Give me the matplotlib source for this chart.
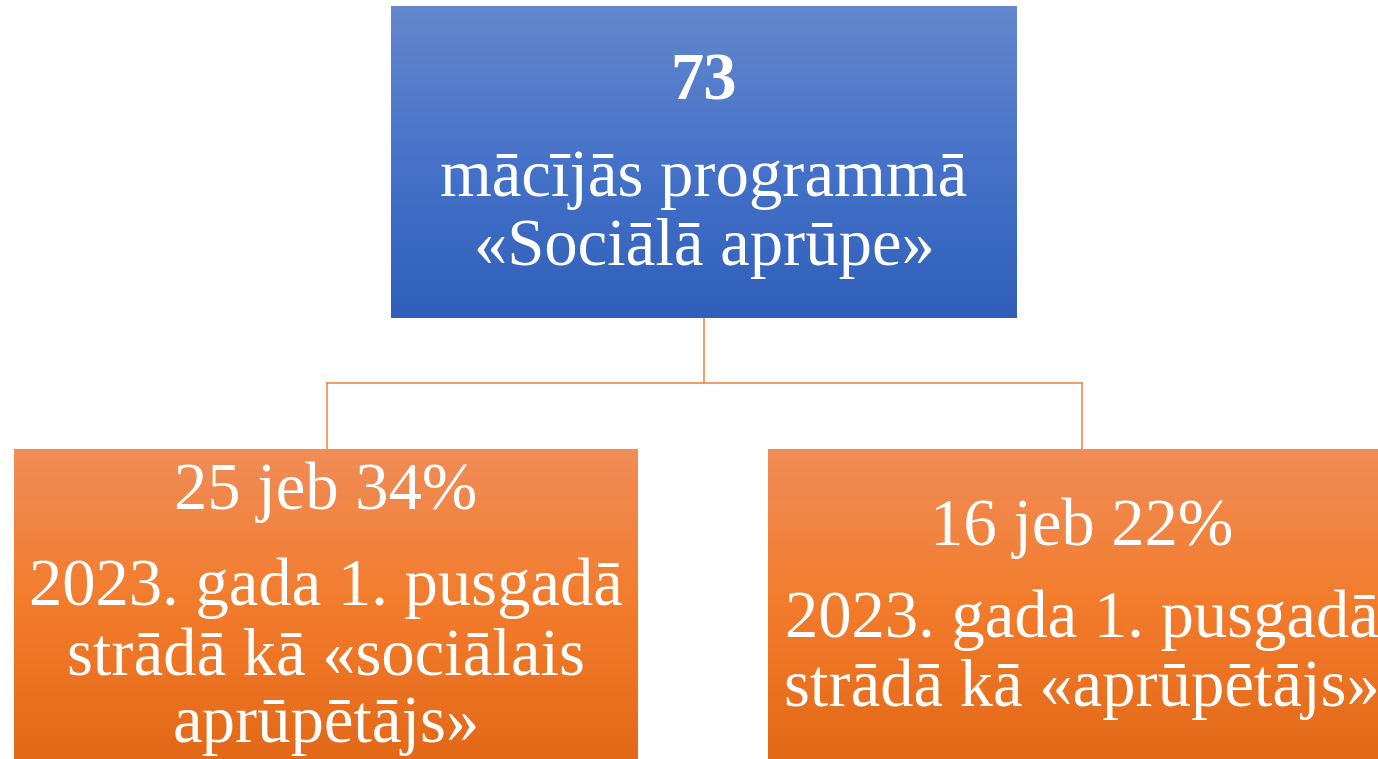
import numpy as np
import matplotlib.pyplot as plt
from matplotlib.colors import LinearSegmentedColormap

plt.rcParams['font.family'] = ['Liberation Serif', 'DejaVu Serif']

# box texts (one list per box, line by line)
top_lines = ['73', 'mācījās programmā', '«Sociālā aprūpe»']
left_lines = ['25 jeb 34%', '2023. gada 1. pusgadā', 'strādā kā «sociālais', 'aprūpētājs»']
right_lines = ['16 jeb 22%', '2023. gada 1. pusgadā', 'strādā kā «aprūpētājs»']

W, H = 1378, 759
fig = plt.figure(figsize=(13.78, 7.59), dpi=100)
ax = fig.add_axes([0, 0, 1, 1])
ax.set_xlim(0, W)
ax.set_ylim(H, 0)
ax.axis('off')

blue = LinearSegmentedColormap.from_list('blue', ['#6487CD', '#4673C9', '#2F5FBA'])
orange = LinearSegmentedColormap.from_list('orange', ['#F08D58', '#F37C2C', '#E36918'])
grad = np.linspace(0, 1, 256).reshape(-1, 1)


def box(x0, x1, y0, y1, cmap):
    ax.imshow(grad, cmap=cmap, aspect='auto', extent=(x0, x1, y1, y0),
              interpolation='bilinear', zorder=2)


# connectors
line_col = '#EE8240'
ax.plot([704, 704], [318, 383], color=line_col, lw=1.1, zorder=1)
ax.plot([327, 1082], [383, 383], color=line_col, lw=1.1, zorder=1)
ax.plot([327, 327], [383, 449], color=line_col, lw=1.1, zorder=1)
ax.plot([1082, 1082], [383, 449], color=line_col, lw=1.1, zorder=1)

box(391, 1017, 6, 318, blue)
box(14, 638, 449, 759, orange)
box(768, 1396, 449, 759, orange)

ax.set_xlim(0, W)
ax.set_ylim(H, 0)

fs = 48
top_y = [100, 196, 265]
for i, (t, y) in enumerate(zip(top_lines, top_y)):
    ax.text(704, y, t, color='white', fontsize=fs, ha='center', va='baseline',
            fontweight='bold' if i == 0 else 'normal', zorder=3)

left_y = [509, 605, 675, 742]
for t, y in zip(left_lines, left_y):
    ax.text(326, y, t, color='white', fontsize=fs, ha='center', va='baseline', zorder=3)

right_y = [545, 637, 706]
for t, y in zip(right_lines, right_y):
    ax.text(1082, y, t, color='white', fontsize=fs, ha='center', va='baseline', zorder=3)

fig.savefig('out.png', dpi=100, facecolor='white')
